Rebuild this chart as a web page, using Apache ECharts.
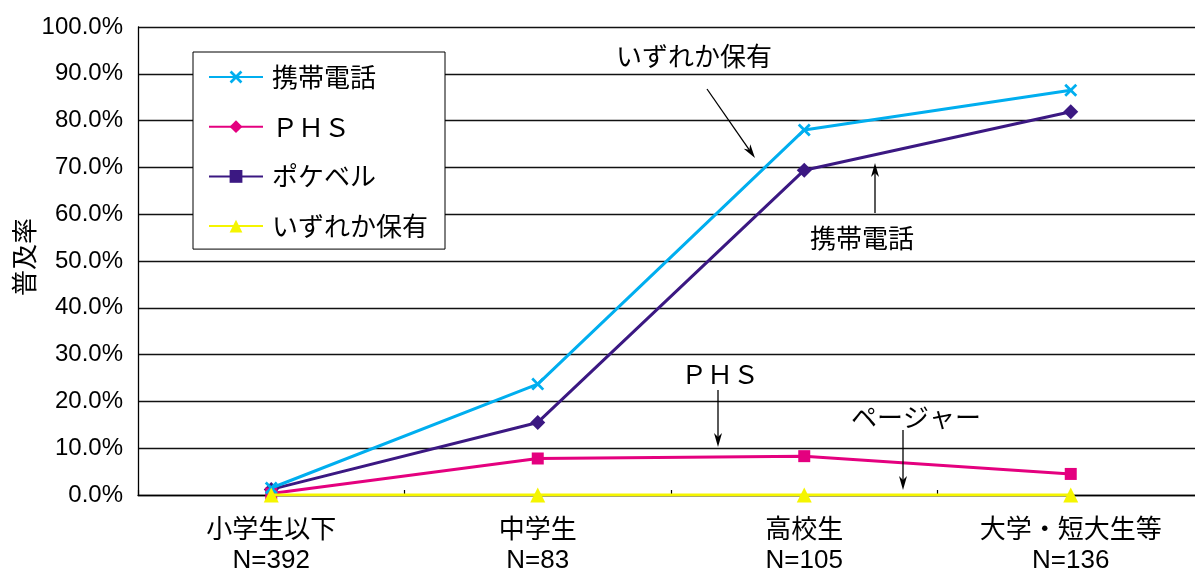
<!DOCTYPE html>
<html>
<head>
<meta charset="utf-8">
<script src="https://cdn.jsdelivr.net/npm/echarts@6/dist/echarts.min.js"></script>
<style>
  html, body { margin: 0; padding: 0; background: #fff; }
  #chart { width: 1195px; height: 571px; }
</style>
</head>
<body>
<div id="chart"></div>
<script>
// School levels and respondent counts
const categories = ['小学生以下', '中学生', '高校生', '大学・短大生等'];
const sampleSizes = ['N=392', 'N=83', 'N=105', 'N=136'];

// Ownership rates (%)
const anyOwned    = [1.5, 23.7, 78.0, 86.5];
const mobilePhone = [1.2, 15.5, 69.4, 81.9];
const phsRate     = [0.3, 7.8, 8.3, 4.5];
const pagerRate   = [0, 0, 0, 0];

// Legend entries
const legendNames = ['携帯電話', 'ＰＨＳ', 'ポケベル', 'いずれか保有'];

const CJK = '"Noto Sans CJK JP", sans-serif';
const LATIN = '"Liberation Sans", "Noto Sans CJK JP", sans-serif';

const C_BLUE = '#00AEEF';
const C_PINK = '#E4007F';
const C_PURPLE = '#3B1882';
const C_YELLOW = '#F5F500';

// filled "x" cross marker
const X_MARK = 'path://M0,1.5 L1.5,0 L5,3.5 L8.5,0 L10,1.5 L6.5,5 L10,8.5 L8.5,10 L5,6.5 L1.5,10 L0,8.5 L3.5,5 Z';

function lineSeries(name, data, color, symbol, size, z) {
  return {
    name: name, type: 'line', data: data, color: color,
    symbol: symbol, symbolSize: size, showSymbol: true,
    lineStyle: { width: 3, color: color },
    itemStyle: { color: color },
    emphasis: { disabled: true },
    z: z
  };
}

// arrow with a notched head, drawn from (x1,y1) to the tip (x2,y2)
function arrow(x1, y1, x2, y2) {
  const dx = x2 - x1, dy = y2 - y1;
  const len = Math.sqrt(dx * dx + dy * dy);
  const ux = dx / len, uy = dy / len;
  const px = -uy, py = ux;
  const hl = 14, hw = 4, notch = 10;
  const bx = x2 - ux * hl, by = y2 - uy * hl;
  const nx = x2 - ux * notch, ny = y2 - uy * notch;
  return [
    { type: 'line', shape: { x1: x1, y1: y1, x2: nx, y2: ny }, style: { stroke: '#000', lineWidth: 1.3 }, z: 20 },
    { type: 'polygon', shape: { points: [[x2, y2], [bx + px * hw, by + py * hw], [nx, ny], [bx - px * hw, by - py * hw]] },
      style: { fill: '#000' }, z: 20 }
  ];
}

function note(text, x, y) {
  return { type: 'text', x: x, y: y, z: 20,
    style: { text: text, font: '26px ' + CJK, fill: '#000', align: 'center', verticalAlign: 'middle' } };
}

const chart = echarts.init(document.getElementById('chart'), null, { renderer: 'canvas' });

chart.setOption({
  animation: false,
  backgroundColor: '#fff',
  grid: { left: 138, top: 27, right: -9, bottom: 76, containLabel: false, outerBoundsMode: 'none' },
  legend: {
    orient: 'vertical', left: 193, top: 52,
    data: legendNames,
    padding: [12, 17, 10, 15],
    itemWidth: 54, itemHeight: 16, itemGap: 23.7,
    borderColor: '#000', borderWidth: 1, backgroundColor: '#fff',
    textStyle: { fontFamily: CJK, fontSize: 26, lineHeight: 26, color: '#000', padding: [0, 0, 0, 4] },
    selectedMode: false
  },
  xAxis: {
    type: 'category', data: categories, boundaryGap: true,
    axisLine: { lineStyle: { color: '#000', width: 1.3 } },
    axisTick: { show: true, inside: true, length: 5, lineStyle: { color: '#000', width: 1.2 } },
    axisLabel: {
      margin: 21, color: '#000', fontFamily: LATIN, fontSize: 26, lineHeight: 30,
      formatter: (v, i) => v + '\n' + sampleSizes[i]
    },
    splitLine: { show: false }
  },
  yAxis: {
    type: 'value', min: 0, max: 100, interval: 10,
    axisLine: { show: true, lineStyle: { color: '#000', width: 1.3 } },
    axisTick: { show: false },
    axisLabel: { margin: 15, color: '#000', fontFamily: LATIN, fontSize: 24, formatter: v => v.toFixed(1) + '%' },
    splitLine: { show: true, lineStyle: { color: '#111', width: 1.3 } }
  },
  series: [
    lineSeries('いずれか保有率', anyOwned, C_BLUE, X_MARK, 13, 4),
    lineSeries('携帯電話保有率', mobilePhone, C_PURPLE, 'diamond', 15, 3),
    lineSeries('PHS保有率', phsRate, C_PINK, 'rect', 12, 3),
    lineSeries('ページャー保有率', pagerRate, C_YELLOW, 'triangle', 15, 5),
    // legend entries
    lineSeries('携帯電話', [], C_BLUE, X_MARK, 13, 1),
    lineSeries('ＰＨＳ', [], C_PINK, 'diamond', 15, 1),
    lineSeries('ポケベル', [], C_PURPLE, 'rect', 12, 1),
    lineSeries('いずれか保有', [], C_YELLOW, 'triangle', 15, 1)
  ],
  graphic: [
    { type: 'text', x: 24, y: 257, rotation: Math.PI / 2, z: 20,
      style: { text: '普及率', font: '26px ' + CJK, fill: '#000', align: 'center', verticalAlign: 'middle' } },
    note('いずれか保有', 694, 56),
    ...arrow(707, 89, 755, 158),
    note('携帯電話', 862, 238),
    ...arrow(875, 213, 875, 163),
    note('ＰＨＳ', 720, 374),
    ...arrow(718, 390, 718, 447),
    note('ページャー', 916, 417),
    ...arrow(903, 430, 903, 490)
  ]
});
</script>
</body>
</html>
